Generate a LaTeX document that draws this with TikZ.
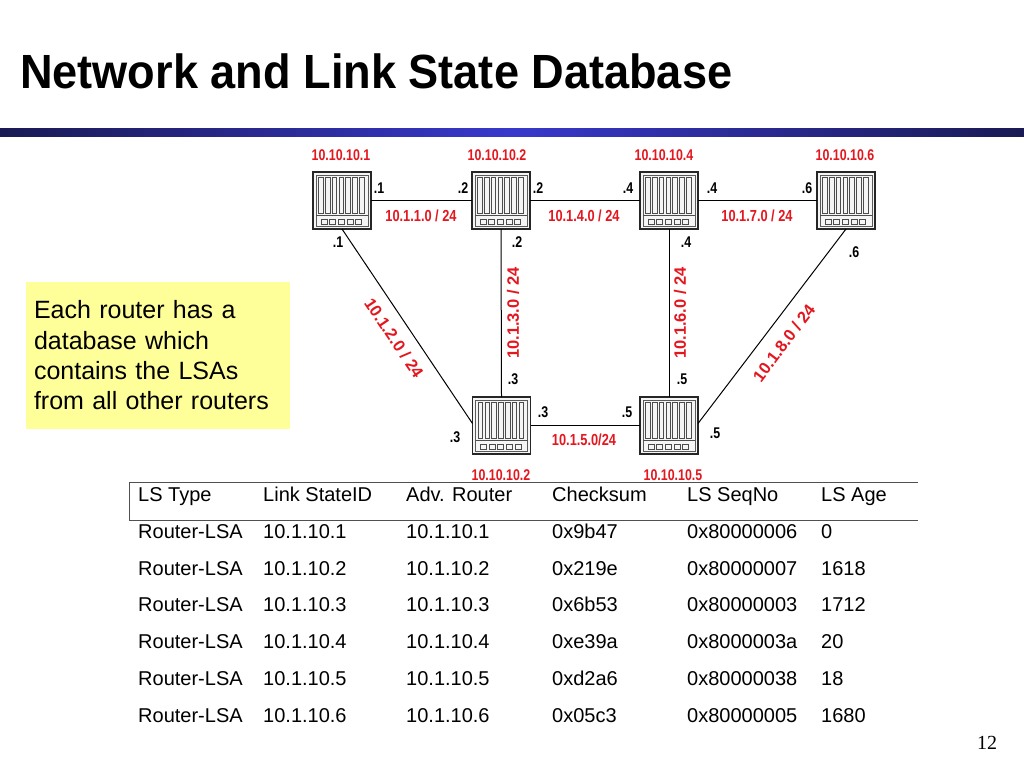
\documentclass[tikz,border=0pt]{standalone}
\usepackage{fontspec}
\setmainfont{Liberation Sans}
\newfontfamily\narrowsans[FakeStretch=0.8]{Liberation Sans}
\newfontfamily\titlesans[FakeStretch=0.94]{Liberation Sans}
\newfontfamily\serifnum{Liberation Serif}
\definecolor{lblred}{RGB}{228,22,30}
\definecolor{barblue}{RGB}{56,56,204}
\definecolor{bardark}{RGB}{26,26,84}
\definecolor{noteyellow}{RGB}{255,255,153}
\definecolor{tablegray}{RGB}{80,80,80}
\usetikzlibrary{calc}
\newcommand\rdetail[1]{%
  \begin{scope}[shift={(#1.north west)}]
    \draw[black!65, line width=.5pt] (3,3) rectangle (55,54);
    \foreach \i in {0,...,6}
      \draw[black!70, line width=.5pt] ({5.5+\i*6.8},5) rectangle ({5.5+\i*6.8+4.6},41);
    \draw[black!70, line width=.6pt] (3,43.5) -- (55,43.5);
    \foreach \i in {0,...,4}
      \draw[black!70, line width=.5pt] ({8+\i*8.6},47.5) rectangle ({8+\i*8.6+6},52);
  \end{scope}}
\begin{document}
\begin{tikzpicture}[x=1pt,y=-1pt,
  router/.style={rectangle, draw=black!85, line width=1.3pt, fill=gray!8,
    minimum width=58pt, minimum height=57pt, inner sep=0pt, outer sep=0pt},
  link/.style={draw=black, line width=1pt},
  rname/.style={font=\narrowsans\bfseries\fontsize{15.5}{17}\selectfont, text=lblred, inner sep=0pt},
  netlbl/.style={font=\narrowsans\bfseries\fontsize{16}{17}\selectfont, text=lblred, inner sep=0pt},
  bignet/.style={font=\bfseries\fontsize{16.5}{18}\selectfont, text=lblred, inner sep=0pt},
  port/.style={font=\narrowsans\bfseries\fontsize{15.5}{17}\selectfont, text=black, inner sep=0pt},
  cell/.style={font=\fontsize{20}{22}\selectfont, anchor=base west, inner sep=0pt},
  note/.style={fill=noteyellow, draw=none, minimum width=264pt, minimum height=147pt,
    text width=248pt, align=left, inner sep=0pt,
    font=\fontsize{25}{30.3}\selectfont}
]
\useasboundingbox (0,0) rectangle (1024,768);
\fill[white] (0,0) rectangle (1024,768);

% title and bar
\node[anchor=base west, inner sep=0pt, font=\titlesans\bfseries\fontsize{48}{52}\selectfont] (title) at (20,88) {Network and Link State Database};
\foreach \i in {0,...,127}{
  \pgfmathtruncatemacro\m{100*abs(\i-63.5)/63.5}
  \fill[bardark!\m!barblue] ({\i*8},128) rectangle ({\i*8+8.6},137);
}

% routers
\node[router] (r1) at (342,200.5) {};
\node[router] (r2) at (501,200.5) {};
\node[router] (r4) at (669,200.5) {};
\node[router] (r6) at (846,200.5) {};
\node[router] (r3) at (501.5,425.5) {};
\node[router] (r5) at (669,425.5) {};
\rdetail{r1}\rdetail{r2}\rdetail{r4}\rdetail{r6}\rdetail{r3}\rdetail{r5}

% links
\draw[link] (r1.east) -- (r2.west);
\draw[link] (r2.east) -- (r4.west);
\draw[link] (r4.east) -- (r6.west);
\draw[link] (r2.south) -- (r3.north);
\draw[link] (r4.south) -- (r5.north);
\draw[link] (r3.east) -- (r5.west);
\draw[link] (r1.south) -- ($(r3.west)+(0,-2)$);
\draw[link] (r6.south) -- ($(r5.east)+(0,-2)$);

% router names
\node[rname] (n1) at (341,155) {10.10.10.1};
\node[rname] (n2) at (497,155) {10.10.10.2};
\node[rname] (n4) at (664,155) {10.10.10.4};
\node[rname] (n6) at (845,155) {10.10.10.6};
\node[rname] (n3) at (501,475) {10.10.10.2};
\node[rname] (n5) at (673,475) {10.10.10.5};

% network labels
\node[netlbl] (l11) at (421,216) {10.1.1.0 / 24};
\node[netlbl] (l14) at (584,216) {10.1.4.0 / 24};
\node[netlbl] (l17) at (757,216) {10.1.7.0 / 24};
\node[netlbl] (l15) at (584,440) {10.1.5.0/24};
\node[bignet, rotate=90] (l13) at (513,313) {10.1.3.0 / 24};
\node[bignet, rotate=90] (l16) at (680,313) {10.1.6.0 / 24};
\node[bignet, rotate=-56] (l12) at (394,338) {10.1.2.0 / 24};
\node[bignet, rotate=53] (l18) at (784,343) {10.1.8.0 / 24};

% port labels
\node[port] (p1a) at (379,188) {.1};
\node[port] (p2a) at (463,188) {.2};
\node[port] (p2b) at (538,188) {.2};
\node[port] (p4a) at (628,188) {.4};
\node[port] (p4b) at (712,188) {.4};
\node[port] (p6a) at (807,188) {.6};
\node[port] (p1b) at (338,242) {.1};
\node[port] (p2c) at (517,242) {.2};
\node[port] (p4c) at (686,242) {.4};
\node[port] (p6b) at (854,252) {.6};
\node[port] (p3a) at (513,379) {.3};
\node[port] (p5a) at (682,379) {.5};
\node[port] (p3b) at (543,412) {.3};
\node[port] (p5b) at (627,412) {.5};
\node[port] (p3c) at (455,437) {.3};
\node[port] (p5c) at (715,433) {.5};

% note
\node[note] (note) at (158,355.5) {Each router has a\\database which\\contains the LSAs\\from all other routers};

% table frame
\draw[tablegray, line width=1pt] (918,482) -- (129.5,482) -- (129.5,520) -- (918,520);

% table
\foreach \row/\yy/\a/\b/\c/\d/\e/\f in {
  0/501/LS Type/Link StateID/Adv. Router/Checksum/LS SeqNo/LS Age,
  1/538/Router-LSA/10.1.10.1/10.1.10.1/0x9b47/0x80000006/0,
  2/575/Router-LSA/10.1.10.2/10.1.10.2/0x219e/0x80000007/1618,
  3/611.5/Router-LSA/10.1.10.3/10.1.10.3/0x6b53/0x80000003/1712,
  4/648.5/Router-LSA/10.1.10.4/10.1.10.4/0xe39a/0x8000003a/20,
  5/685.5/Router-LSA/10.1.10.5/10.1.10.5/0xd2a6/0x80000038/18,
  6/722.5/Router-LSA/10.1.10.6/10.1.10.6/0x05c3/0x80000005/1680}{
  \node[cell] (t\row a) at (138,\yy) {\a};
  \node[cell] (t\row b) at (263,\yy) {\b};
  \node[cell] (t\row c) at (406,\yy) {\c};
  \node[cell] (t\row d) at (552,\yy) {\d};
  \node[cell] (t\row e) at (687,\yy) {\e};
  \node[cell] (t\row f) at (821,\yy) {\f};
}

% page number
\node[inner sep=0pt, font=\serifnum\fontsize{20}{22}\selectfont] (pnum) at (987,743) {12};
\end{tikzpicture}
\end{document}
